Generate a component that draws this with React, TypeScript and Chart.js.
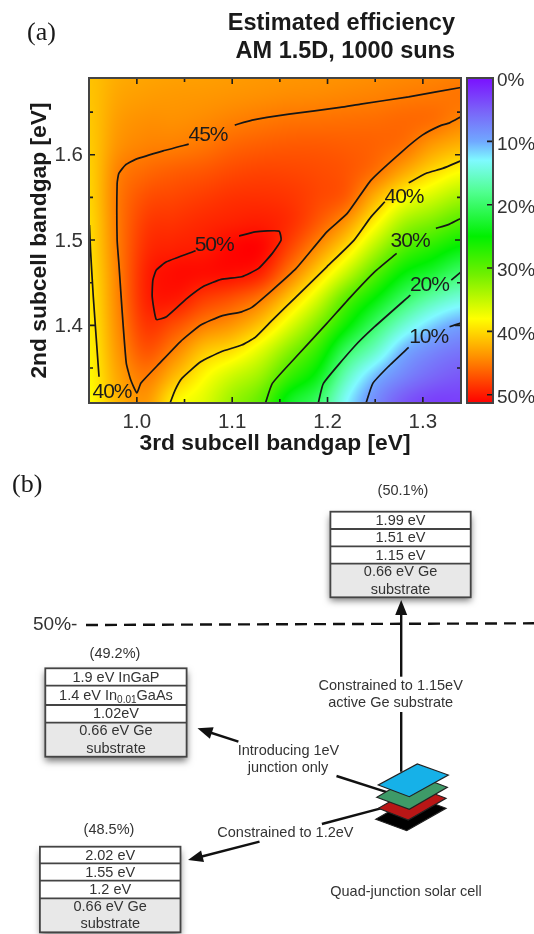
import React, { useEffect, useRef } from "react";
import { Chart, registerables } from "chart.js";

Chart.register(...registerables);

const SANS = '"Liberation Sans", Arial, sans-serif';
const SERIF = '"Liberation Serif", serif';

// ---------- panel (a) ----------
const titleLines = ["Estimated efficiency", "AM 1.5D, 1000 suns"];
const thirdGap = [0.95, 0.98, 1.01, 1.04, 1.07, 1.1, 1.13, 1.16, 1.19, 1.22, 1.25, 1.28, 1.31, 1.34];
const secondGap = [1.31, 1.34, 1.37, 1.4, 1.43, 1.46, 1.49, 1.52, 1.55, 1.58, 1.61, 1.64, 1.67, 1.7];
// one list per third-subcell gap, from 1.31 eV up to 1.70 eV
const effAt095 = [38, 38.3, 38.6, 38.9, 39.2, 39.5, 39.8, 40, 40.3, 40.5, 40.8, 41, 41.2, 41.3];
const effAt098 = [42, 42.8, 43.6, 44.2, 44.6, 44.8, 45, 45.1, 45.1, 44.7, 43.8, 43.3, 42.8, 42.4];
const effAt101 = [43.5, 45, 47, 48.5, 49.5, 49.6, 49, 48.3, 47.3, 46, 44.7, 44, 43.3, 42.8];
const effAt104 = [38.6, 41.7, 44.6, 47.3, 50, 50.7, 49.7, 48.8, 47.8, 46.6, 44.9, 44, 43.5, 43];
const effAt107 = [36.5, 38.3, 41.2, 45, 48.2, 50.6, 50, 49.3, 48.3, 47, 45.4, 44.3, 43.6, 43.1];
const effAt110 = [33, 35.5, 39.6, 43.6, 47, 50.5, 51, 49.7, 48.8, 47.6, 46.2, 44.8, 43.8, 43.3];
const effAt113 = [30, 33, 36.5, 41, 45, 49.4, 51, 49.9, 48.9, 47.9, 46.6, 45.2, 44, 43.5];
const effAt116 = [23.5, 28, 32, 36.5, 40.8, 45, 47.8, 49, 48.6, 47.8, 46.8, 45.5, 44.2, 43.6];
const effAt119 = [20, 23.8, 27.5, 31.5, 35.8, 40.3, 44, 46.7, 47.7, 47.5, 46.8, 45.6, 44.3, 43.7];
const effAt122 = [13, 16, 20.3, 25.5, 29.5, 35, 39.7, 43.5, 46.5, 47, 46.6, 45.7, 44.5, 43.8];
const effAt125 = [8, 10.7, 15.5, 20, 24.7, 29.5, 34.2, 38.5, 42.2, 45.5, 46.3, 45.8, 44.7, 44];
const effAt128 = [4.5, 7.5, 10.3, 15, 20, 24.7, 29.3, 33.6, 38.2, 42.7, 45.5, 46, 45, 44.2];
const effAt131 = [3, 5.5, 7.8, 11.5, 16.5, 22.3, 26.8, 31.4, 35.8, 40, 43.3, 45.7, 45.2, 44.4];
const effAt134 = [3, 4.5, 6.5, 9.5, 14.3, 19.5, 24.5, 29.2, 33.6, 38, 42, 44.6, 45.4, 44.6];
const effColumns = [effAt095, effAt098, effAt101, effAt104, effAt107, effAt110, effAt113, effAt116, effAt119, effAt122, effAt125, effAt128, effAt131, effAt134];

const contour45a = [[1.1027, 1.6348], [1.1209, 1.6406], [1.1596, 1.6476], [1.2132, 1.6555], [1.2347, 1.6594], [1.2851, 1.6679], [1.3398, 1.6789]];
const contour45b = [[1.0544, 1.6125], [1.0276, 1.6046], [0.9986, 1.5946], [0.9879, 1.5879], [0.9811, 1.5781], [0.9793, 1.5664], [0.9793, 1.5], [0.9811, 1.473], [0.9847, 1.4144], [0.9889, 1.3558], [0.9936, 1.3359], [1.0, 1.3207], [1.0043, 1.3324], [1.024, 1.3558], [1.0455, 1.3808], [1.067, 1.4004], [1.0884, 1.4109], [1.1099, 1.4159], [1.1206, 1.4211], [1.1421, 1.4414], [1.1671, 1.4668], [1.1993, 1.5097], [1.2207, 1.5313], [1.2457, 1.5703], [1.2779, 1.6035], [1.2994, 1.623], [1.3173, 1.6336], [1.328, 1.6374], [1.3398, 1.6445]];
const contour40a = [[1.0348, 1.3089], [1.0401, 1.3242], [1.0472, 1.3379], [1.067, 1.3573], [1.0884, 1.3691], [1.1099, 1.3769], [1.1241, 1.3859], [1.1421, 1.4062], [1.1671, 1.4335], [1.1993, 1.4687], [1.2279, 1.5], [1.2454, 1.5269], [1.2601, 1.5449]];
const contour40b = [[1.2851, 1.5671], [1.303, 1.5781], [1.3208, 1.584], [1.3398, 1.5929]];
const contour40c = [[0.9503, 1.5176], [0.9514, 1.4883], [0.9543, 1.4335], [0.9603, 1.3398]];
const contour30a = [[1.1349, 1.3089], [1.1421, 1.332], [1.1671, 1.3632], [1.1993, 1.4023], [1.2243, 1.4335], [1.2494, 1.4628], [1.2725, 1.4844]];
const contour30b = [[1.3137, 1.5137], [1.328, 1.5187], [1.3398, 1.5254]];
const contour20a = [[1.1903, 1.3089], [1.1957, 1.332], [1.2279, 1.3749], [1.2494, 1.3984], [1.2869, 1.4355]];
const contour20b = [[1.3298, 1.4531], [1.3398, 1.4625]];
const contour10a = [[1.2404, 1.3089], [1.2475, 1.332], [1.2636, 1.3515], [1.2851, 1.3742]];
const contour10b = [[1.328, 1.3984], [1.3398, 1.4027]];
const contour50 = [[1.1073, 1.5047], [1.1241, 1.5097], [1.1491, 1.5105], [1.1513, 1.5], [1.1421, 1.4844], [1.1277, 1.4668], [1.1099, 1.457], [1.0884, 1.4539], [1.0705, 1.4461], [1.0526, 1.4316], [1.0311, 1.4101], [1.0204, 1.407], [1.0161, 1.4335], [1.0168, 1.4531], [1.0204, 1.4648], [1.0311, 1.4745], [1.0616, 1.4874]];
const contours = [contour45a, contour45b, contour40a, contour40b, contour40c, contour30a, contour30b, contour20a, contour20b, contour10a, contour10b, contour50];

const contourLabelText = ["45%", "40%", "30%", "20%", "10%", "40%", "50%"];
const contourLabelX = [1.0746, 1.2802, 1.2866, 1.3069, 1.3061, 0.9739, 1.0811];
const contourLabelY = [1.623, 1.5507, 1.4988, 1.4472, 1.3866, 1.3222, 1.4941];

const xMajorTicks = [1.0, 1.1, 1.2, 1.3];
const xMinorTicks = [1.05, 1.15, 1.25];
const yMajorTicks = [1.4, 1.5, 1.6];
const yMinorTicks = [1.35, 1.45, 1.55, 1.65];

// colour bar
const colorStopValues = [0, 5, 10, 13, 18, 25, 31, 38, 44, 51.3];
const colorStopColors = ["#7a10ff", "#7a60f8", "#70a8ff", "#7ffaff", "#50ff90", "#00f000", "#70f000", "#ffff00", "#ff9000", "#ff0000"];
const barTicks = [0, 10, 20, 30, 40, 50];

// ---------- panel (b) ----------
const stackLeft = [330.4, 45.3, 39.9];
const stackRight = [470.7, 186.6, 180.5];
const stackEdges = [
  [511.7, 529, 546.3, 563.7, 597.3],
  [668.3, 685.7, 705, 722.7, 756.7],
  [846.7, 863.3, 880.7, 898.3, 932.3],
];
const stackRows = [
  ["1.99 eV", "1.51 eV", "1.15 eV"],
  ["1.9 eV InGaP", "1.4 eV In|0.01|GaAs", "1.02eV"],
  ["2.02 eV", "1.55 eV", "1.2 eV"],
];
const substrateLines = ["0.66 eV Ge", "substrate"];
const stackEfficiency = ["(50.1%)", "(49.2%)", "(48.5%)"];
const stackEfficiencyX = [403, 115, 109];
const stackEfficiencyY = [490.7, 654, 830];

const dashedLine = [{ x: 86, y: 625 }, { x: 534, y: 623.3 }];
const arrowUp = [{ x: 401.2, y: 676.7 }, { x: 401.2, y: 610 }];
const arrowUpTail = [{ x: 401.2, y: 712 }, { x: 401.2, y: 771.7 }];
const arrowLeft = [{ x: 238.4, y: 741.7 }, { x: 204, y: 730.5 }];
const arrowLeftTail = [{ x: 336.5, y: 776 }, { x: 388.3, y: 792.7 }];
const arrowLow = [{ x: 259.5, y: 841.7 }, { x: 196, y: 858 }];
const arrowLowTail = [{ x: 321.9, y: 824 }, { x: 380.8, y: 808.3 }];
const arrowTips = [[401.2, 600, 401.2, 676.7], [197.5, 728.3, 238.4, 741.7], [188, 860, 259.5, 841.7]];

const layerColors = ["#000000", "#b81616", "#3e9a68", "#16b1e8"];
const layerPoints = [
  [[375.7, 819.3], [406.7, 830.7], [446, 808.3], [415, 796.7]],
  [[378.3, 808.3], [408.3, 820], [446, 798.3], [416, 786.7]],
  [[376.7, 797.3], [409.3, 809.3], [447.3, 787.3], [415, 775]],
  [[378.3, 785], [409.3, 796.7], [448.3, 775], [417.3, 764]],
];

const noteText = ["Constrained to 1.15eV", "active Ge substrate", "Introducing 1eV", "junction only", "Constrained to 1.2eV", "Quad-junction solar cell"];
const noteX = [390.7, 390.7, 288.5, 288, 285.4, 406];
const noteY = [686, 703, 750.7, 767.7, 833.3, 891.7];

// ---------- helpers ----------
function hexToRgb(h: string) {
  return [1, 3, 5].map((i) => parseInt(h.slice(i, i + 2), 16));
}
function colorFor(v: number) {
  const vs = colorStopValues;
  const val = Math.max(vs[0], Math.min(vs[vs.length - 1], v));
  let i = 0;
  while (i < vs.length - 2 && val > vs[i + 1]) i++;
  const t = (val - vs[i]) / (vs[i + 1] - vs[i]);
  const a = hexToRgb(colorStopColors[i]);
  const b = hexToRgb(colorStopColors[i + 1]);
  return [0, 1, 2].map((k) => a[k] + (b[k] - a[k]) * t);
}
function cubic(p0: number, p1: number, p2: number, p3: number, t: number) {
  return p1 + 0.5 * t * (p2 - p0 + t * (2 * p0 - 5 * p1 + 4 * p2 - p3 + t * (3 * (p1 - p2) + p3 - p0)));
}
function sampleField(xv: number, yv: number) {
  const fx = Math.max(0, Math.min(thirdGap.length - 1.0001, (xv - thirdGap[0]) / 0.03));
  const fy = Math.max(0, Math.min(secondGap.length - 1.0001, (yv - secondGap[0]) / 0.03));
  const ix = Math.floor(fx);
  const iy = Math.floor(fy);
  const col = (i: number) => effColumns[Math.max(0, Math.min(effColumns.length - 1, i))];
  const at = (c: number[], j: number) => c[Math.max(0, Math.min(c.length - 1, j))];
  const row = (i: number) => cubic(at(col(i), iy - 1), at(col(i), iy), at(col(i), iy + 1), at(col(i), iy + 2), fy - iy);
  return cubic(row(ix - 1), row(ix), row(ix + 1), row(ix + 2), fx - ix);
}

const heatPlugin = {
  id: "heat",
  beforeDatasetsDraw(chart: any) {
    const { ctx, chartArea: a, scales } = chart;
    const w = Math.round(a.right - a.left);
    const h = Math.round(a.bottom - a.top);
    const off = document.createElement("canvas");
    off.width = w;
    off.height = h;
    const oc = off.getContext("2d")!;
    const img = oc.createImageData(w, h);
    for (let py = 0; py < h; py++) {
      const yv = scales.y.getValueForPixel(a.top + py + 0.5);
      for (let px = 0; px < w; px++) {
        const xv = scales.x.getValueForPixel(a.left + px + 0.5);
        const c = colorFor(sampleField(xv, yv));
        const o = (py * w + px) * 4;
        img.data[o] = c[0];
        img.data[o + 1] = c[1];
        img.data[o + 2] = c[2];
        img.data[o + 3] = 255;
      }
    }
    oc.putImageData(img, 0, 0);
    ctx.drawImage(off, a.left, a.top);
  },
};

const framePlugin = {
  id: "frame",
  afterDatasetsDraw(chart: any) {
    const { ctx, chartArea: a, scales } = chart;
    ctx.save();
    ctx.strokeStyle = "#1c1c1c";
    ctx.lineWidth = 1.6;
    const tick = (vals: number[], len: number) => {
      ctx.beginPath();
      vals.forEach((v) => {
        const px = scales.x.getPixelForValue(v);
        ctx.moveTo(px, a.bottom);
        ctx.lineTo(px, a.bottom - len);
        ctx.moveTo(px, a.top);
        ctx.lineTo(px, a.top + len);
      });
      ctx.stroke();
    };
    const tickY = (vals: number[], len: number) => {
      ctx.beginPath();
      vals.forEach((v) => {
        const py = scales.y.getPixelForValue(v);
        ctx.moveTo(a.left, py);
        ctx.lineTo(a.left + len, py);
        ctx.moveTo(a.right, py);
        ctx.lineTo(a.right - len, py);
      });
      ctx.stroke();
    };
    tick(xMajorTicks, 6);
    tick(xMinorTicks, 4);
    tickY(yMajorTicks, 6);
    tickY(yMinorTicks, 4);
    ctx.strokeStyle = "#444444";
    ctx.lineWidth = 2;
    ctx.strokeRect(a.left, a.top, a.right - a.left, a.bottom - a.top);

    ctx.fillStyle = "#1c1c1c";
    ctx.textAlign = "center";
    ctx.textBaseline = "middle";
    ctx.font = `21px ${SANS}`;
    (ctx as any).letterSpacing = "-1px";
    contourLabelText.forEach((t, i) => {
      ctx.fillText(t, scales.x.getPixelForValue(contourLabelX[i]), scales.y.getPixelForValue(contourLabelY[i]));
    });
    (ctx as any).letterSpacing = "0px";

    ctx.fillStyle = "#1a1a1a";
    ctx.textAlign = "right";
    ctx.font = `bold 23.5px ${SANS}`;
    ctx.fillText(titleLines[0], 455, 24);
    ctx.fillText(titleLines[1], 455, 52);
    ctx.textAlign = "left";
    ctx.font = `26px ${SERIF}`;
    ctx.fillText("(a)", 27, 33);
    ctx.restore();
  },
};

const barPlugin = {
  id: "barFrame",
  afterDatasetsDraw(chart: any) {
    const { ctx, chartArea: a, scales } = chart;
    ctx.save();
    ctx.strokeStyle = "#1c1c1c";
    ctx.lineWidth = 1.6;
    ctx.beginPath();
    barTicks.forEach((v) => {
      const py = scales.y.getPixelForValue(v);
      ctx.moveTo(a.right, py);
      ctx.lineTo(a.right - 6, py);
    });
    ctx.stroke();
    ctx.strokeStyle = "#444444";
    ctx.lineWidth = 2;
    ctx.strokeRect(a.left, a.top, a.right - a.left, a.bottom - a.top);
    ctx.restore();
  },
};

const NOTE_FONT = `14.5px ${SANS}`;

function drawRichRow(ctx: any, text: string, cx: number, cy: number) {
  const parts = text.split("|");
  if (parts.length === 1) {
    ctx.textAlign = "center";
    ctx.fillText(text, cx, cy);
    return;
  }
  ctx.textAlign = "left";
  const small = `10px ${SANS}`;
  ctx.font = NOTE_FONT;
  const w0 = ctx.measureText(parts[0]).width;
  const w2 = ctx.measureText(parts[2]).width;
  ctx.font = small;
  const w1 = ctx.measureText(parts[1]).width;
  let x = cx - (w0 + w1 + w2) / 2;
  ctx.font = NOTE_FONT;
  ctx.fillText(parts[0], x, cy);
  x += w0;
  ctx.font = small;
  ctx.fillText(parts[1], x, cy + 4);
  x += w1;
  ctx.font = NOTE_FONT;
  ctx.fillText(parts[2], x, cy);
}

const diagramPlugin = {
  id: "diagram",
  afterDatasetsDraw(chart: any) {
    const { ctx, scales } = chart;
    const X = (v: number) => scales.x.getPixelForValue(v);
    const Y = (v: number) => scales.y.getPixelForValue(v);
    ctx.save();
    ctx.textBaseline = "middle";

    stackEdges.forEach((edges, s) => {
      const l = X(stackLeft[s]);
      const r = X(stackRight[s]);
      const top = Y(edges[0]);
      const bot = Y(edges[4]);
      ctx.save();
      ctx.shadowColor = "rgba(0,0,0,0.55)";
      ctx.shadowBlur = 7;
      ctx.shadowOffsetY = 4;
      ctx.fillStyle = "#ffffff";
      ctx.fillRect(l, top, r - l, bot - top);
      ctx.restore();
      ctx.fillStyle = "#e8e8e8";
      ctx.fillRect(l, Y(edges[3]), r - l, bot - Y(edges[3]));
      ctx.strokeStyle = "#444444";
      ctx.lineWidth = 1.8;
      ctx.strokeRect(l, top, r - l, bot - top);
      ctx.beginPath();
      [1, 2, 3].forEach((i) => {
        ctx.moveTo(l, Y(edges[i]));
        ctx.lineTo(r, Y(edges[i]));
      });
      ctx.stroke();
      ctx.fillStyle = "#333333";
      ctx.font = NOTE_FONT;
      const cx = (l + r) / 2;
      stackRows[s].forEach((t, i) => {
        drawRichRow(ctx, t, cx, (Y(edges[i]) + Y(edges[i + 1])) / 2 + 0.5);
      });
      ctx.font = NOTE_FONT;
      ctx.textAlign = "center";
      const base = Y(edges[3]);
      ctx.fillText(substrateLines[0], cx, base + 8.5);
      ctx.fillText(substrateLines[1], cx, base + 26);
      ctx.fillText(stackEfficiency[s], X(stackEfficiencyX[s]), Y(stackEfficiencyY[s]));
    });

    ctx.fillStyle = "#111111";
    arrowTips.forEach(([tx, ty, fx, fy]) => {
      const dx = fx - tx;
      const dy = fy - ty;
      const d = Math.hypot(dx, dy);
      const ux = dx / d;
      const uy = dy / d;
      const len = 15;
      const half = 6;
      ctx.beginPath();
      ctx.moveTo(X(tx), Y(ty));
      ctx.lineTo(X(tx + ux * len - uy * half), Y(ty + uy * len + ux * half));
      ctx.lineTo(X(tx + ux * len + uy * half), Y(ty + uy * len - ux * half));
      ctx.closePath();
      ctx.fill();
    });

    layerPoints.forEach((pts, i) => {
      ctx.beginPath();
      pts.forEach(([px, py], k) => {
        if (k === 0) ctx.moveTo(X(px), Y(py));
        else ctx.lineTo(X(px), Y(py));
      });
      ctx.closePath();
      ctx.fillStyle = layerColors[i];
      ctx.fill();
      ctx.strokeStyle = "#222222";
      ctx.lineWidth = 1.2;
      ctx.stroke();
    });

    ctx.fillStyle = "#333333";
    ctx.textAlign = "center";
    ctx.font = NOTE_FONT;
    noteText.forEach((t, i) => ctx.fillText(t, X(noteX[i]), Y(noteY[i])));

    ctx.textAlign = "left";
    ctx.font = `19px ${SANS}`;
    ctx.fillText("50%-", X(33), Y(625));
    ctx.fillStyle = "#1a1a1a";
    ctx.font = `26px ${SERIF}`;
    ctx.fillText("(b)", X(12), Y(485));
    ctx.restore();
  },
};

function shaft(data: { x: number; y: number }[], dash: number[] = []) {
  return {
    type: "scatter",
    data,
    showLine: true,
    borderColor: "#111111",
    borderWidth: 2.4,
    borderDash: dash,
    pointRadius: 0,
  };
}

export default function App() {
  const heatRef = useRef<HTMLCanvasElement>(null);
  const barRef = useRef<HTMLCanvasElement>(null);
  const diagramRef = useRef<HTMLCanvasElement>(null);

  useEffect(() => {
    const heat = new Chart(heatRef.current!, {
      type: "scatter",
      data: {
        datasets: contours.map((c, i) => ({
          label: `contour ${i}`,
          data: c.map(([x, y]) => ({ x, y })),
          showLine: true,
          borderColor: "#161616",
          borderWidth: 1.7,
          pointRadius: 0,
          tension: 0.15,
        })),
      },
      options: {
        responsive: false,
        animation: false,
        layout: { padding: { left: 26, top: 78, right: 73, bottom: 8 } },
        plugins: { legend: { display: false }, tooltip: { enabled: false } },
        scales: {
          x: {
            type: "linear",
            min: 0.9498,
            max: 1.34,
            afterFit: (s: any) => { s.height = 54; },
            grid: { display: false, drawTicks: false },
            border: { display: false },
            ticks: {
              stepSize: 0.1,
              includeBounds: false,
              maxRotation: 0,
              padding: 7,
              color: "#333333",
              font: { family: SANS, size: 20.5 },
              callback: (v: any) => Number(v).toFixed(1),
            },
            title: {
              display: true,
              text: "3rd subcell bandgap [eV]",
              color: "#1a1a1a",
              padding: 0,
              font: { family: SANS, size: 22.8, weight: "bold", lineHeight: 1.2 },
            },
          },
          y: {
            type: "linear",
            min: 1.309,
            max: 1.69,
            afterFit: (s: any) => { s.width = 63; },
            grid: { display: false, drawTicks: false },
            border: { display: false },
            ticks: {
              stepSize: 0.1,
              includeBounds: false,
              padding: 6,
              labelOffset: 1,
              color: "#333333",
              font: { family: SANS, size: 20.5 },
              callback: (v: any) => Number(v).toFixed(1),
            },
            title: {
              display: true,
              text: "2nd subcell bandgap [eV]",
              color: "#1a1a1a",
              padding: 0,
              font: { family: SANS, size: 22.8, weight: "bold", lineHeight: 1.2 },
            },
          },
        },
      },
      plugins: [heatPlugin, framePlugin],
    } as any);

    const bar = new Chart(barRef.current!, {
      type: "bar",
      data: {
        labels: ["efficiency"],
        datasets: [
          {
            data: [[colorStopValues[0], colorStopValues[colorStopValues.length - 1]]],
            barPercentage: 1,
            categoryPercentage: 1,
            backgroundColor: (c: any) => {
              const { chart } = c;
              if (!chart.chartArea) return colorStopColors[5];
              const last = colorStopValues[colorStopValues.length - 1];
              const g = chart.ctx.createLinearGradient(0, chart.scales.y.getPixelForValue(0), 0, chart.scales.y.getPixelForValue(last));
              colorStopValues.forEach((v, i) => g.addColorStop(v / last, colorStopColors[i]));
              return g;
            },
          },
        ],
      },
      options: {
        responsive: false,
        animation: false,
        layout: { padding: { left: 27, top: 78, right: 0, bottom: 62 } },
        plugins: { legend: { display: false }, tooltip: { enabled: false } },
        scales: {
          x: { display: false },
          y: {
            position: "right",
            reverse: true,
            min: 0,
            max: 51.3,
            afterFit: (s: any) => { s.width = 41; },
            grid: { display: false, drawTicks: false },
            border: { display: false },
            ticks: {
              stepSize: 10,
              includeBounds: false,
              padding: 4,
              labelOffset: 3,
              color: "#333333",
              font: { family: SANS, size: 19 },
              callback: (v: any) => `${v}%`,
            },
          },
        },
      },
      plugins: [barPlugin],
    } as any);

    const diagram = new Chart(diagramRef.current!, {
      type: "scatter",
      data: {
        datasets: [
          shaft(dashedLine, [12, 7]),
          shaft(arrowUp),
          shaft(arrowUpTail),
          shaft(arrowLeft),
          shaft(arrowLeftTail),
          shaft(arrowLow),
          shaft(arrowLowTail),
        ],
      },
      options: {
        responsive: false,
        animation: false,
        layout: { padding: 0 },
        plugins: { legend: { display: false }, tooltip: { enabled: false } },
        scales: {
          x: { type: "linear", display: false, min: 0, max: 534 },
          y: { type: "linear", display: false, reverse: true, min: 465, max: 934 },
        },
      },
      plugins: [diagramPlugin],
    } as any);

    return () => {
      heat.destroy();
      bar.destroy();
      diagram.destroy();
    };
  }, []);

  const canvasStyle = (left: number, top: number): React.CSSProperties => ({
    position: "absolute",
    left,
    top,
    display: "block",
    filter: "blur(0.55px)",
  });

  return (
    <div style={{ position: "absolute", left: 0, top: 0, width: 534, height: 934, overflow: "hidden", background: "#ffffff" }}>
      <canvas ref={heatRef} width={534} height={465} style={canvasStyle(0, 0)} />
      <canvas ref={barRef} width={94} height={465} style={canvasStyle(440, 0)} />
      <canvas ref={diagramRef} width={534} height={469} style={canvasStyle(0, 465)} />
    </div>
  );
}
